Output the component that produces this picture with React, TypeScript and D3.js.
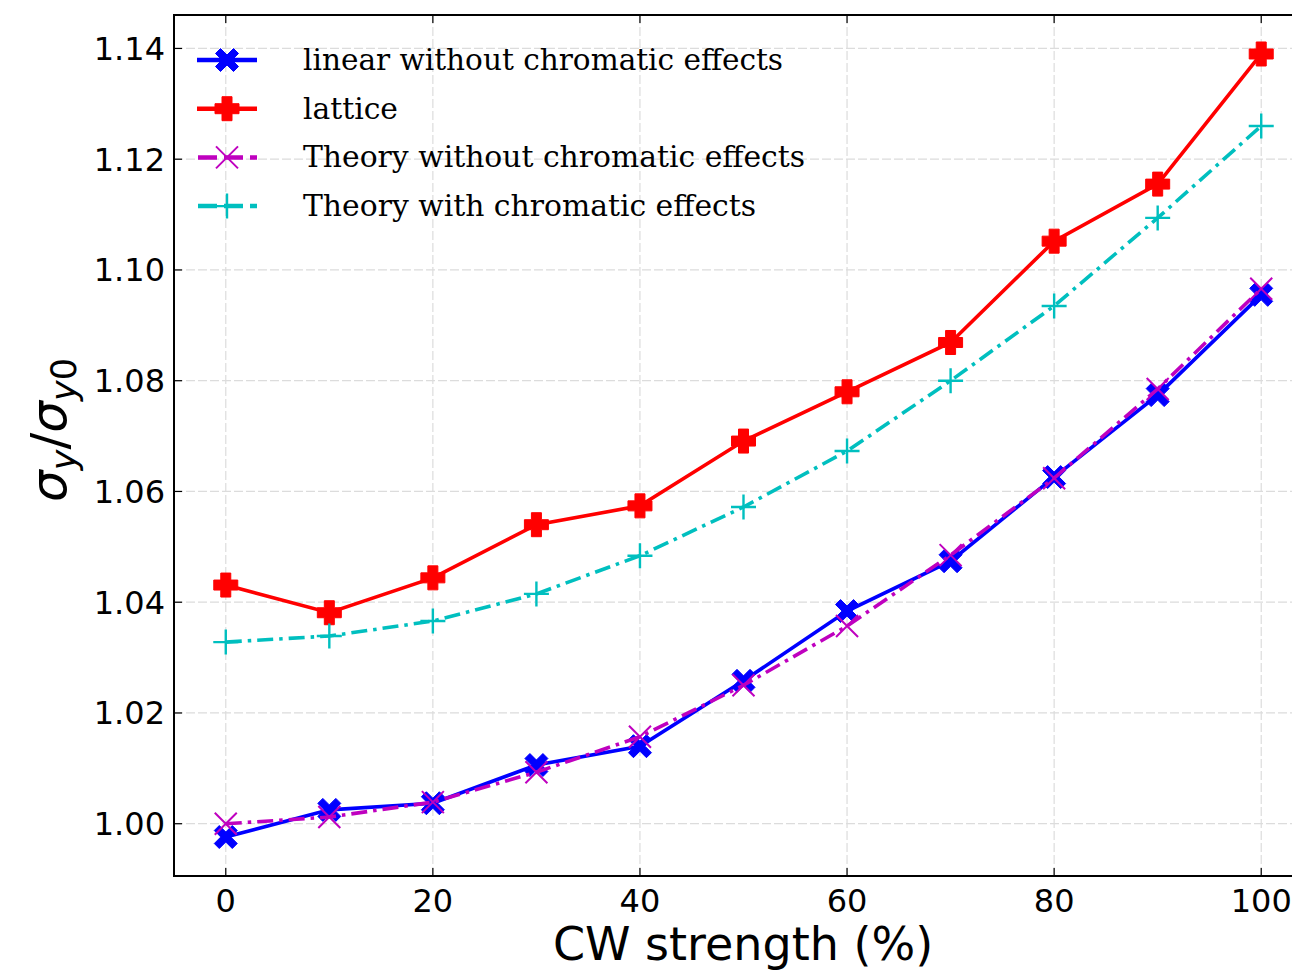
import React from "react";
import * as d3 from "d3";

const xs = [0, 10, 20, 30, 40, 50, 60, 70, 80, 90, 100];
const linearNoChrom = [0.9976, 1.0025, 1.0037, 1.0106, 1.014, 1.0258, 1.0384, 1.0474, 1.0626, 1.0774, 1.0955];
const lattice = [1.0431, 1.0381, 1.0444, 1.054, 1.0574, 1.0691, 1.078, 1.0869, 1.1052, 1.1155, 1.139];
const theoryNoChrom = [1.0, 1.0012, 1.0039, 1.0093, 1.0157, 1.025, 1.0357, 1.0485, 1.0624, 1.0785, 1.0966];
const theoryChrom = [1.0328, 1.0339, 1.0366, 1.0415, 1.0484, 1.0572, 1.0673, 1.08, 1.0935, 1.1094, 1.126];
const xTicks = [0, 20, 40, 60, 80, 100];
const yTicks = [1.0, 1.02, 1.04, 1.06, 1.08, 1.1, 1.12, 1.14];
const legendLabels = [
  "linear without chromatic effects",
  "lattice",
  "Theory without chromatic effects",
  "Theory with chromatic effects",
];

const W = 1292, H = 973;
const L = 174, R = 1313, T = 15, B = 876;

function Marker({ type, x, y, color }: { type: string; x: number; y: number; color: string }) {
  if (type === "X") {
    const s = 11.5, w = 5;
    const p = `M${-s},${-s + w}L${-s + w},${-s}L0,${-w}L${s - w},${-s}L${s},${-s + w}L${w},0L${s},${s - w}L${s - w},${s}L0,${w}L${-s + w},${s}L${-s},${s - w}L${-w},0Z`;
    return <path d={p} transform={`translate(${x},${y})`} fill={color} stroke={color} strokeWidth={1} />;
  }
  if (type === "P") {
    const s = 12, w = 5;
    const p = `M${-w},${-s}H${w}V${-w}H${s}V${w}H${w}V${s}H${-w}V${w}H${-s}V${-w}H${-w}Z`;
    return <path d={p} transform={`translate(${x},${y})`} fill={color} stroke={color} strokeWidth={1} />;
  }
  if (type === "x") {
    const s = 11;
    return <path d={`M${-s},${-s}L${s},${s}M${-s},${s}L${s},${-s}`} transform={`translate(${x},${y})`} stroke={color} strokeWidth={2} fill="none" />;
  }
  const s = 12.5;
  return <path d={`M${-s},0H${s}M0,${-s}V${s}`} transform={`translate(${x},${y})`} stroke={color} strokeWidth={2.4} fill="none" />;
}

export default function App() {
  const x = d3.scaleLinear().domain([-5, 105]).range([L, R]);
  const y = d3.scaleLinear().domain([0.99056, 1.14604]).range([B, T]);
  const series = [
    { data: linearNoChrom, color: "#0000ff", dash: "", marker: "X" },
    { data: lattice, color: "#ff0000", dash: "", marker: "P" },
    { data: theoryNoChrom, color: "#bf00bf", dash: "16,6,3.5,6", marker: "x" },
    { data: theoryChrom, color: "#00bfbf", dash: "16,6,3.5,6", marker: "+" },
  ];
  const line = d3.line<number>().x((_, i) => x(xs[i])).y((d) => y(d));
  const tickFont = "DejaVu Sans, sans-serif";
  return (
    <svg width={W} height={H} style={{ position: "absolute", left: 0, top: 0, background: "#fff" }}>
      <defs>
        <clipPath id="clip">
          <rect x={L} y={T} width={R - L} height={B - T} />
        </clipPath>
      </defs>
      {xTicks.map((t) => (
        <line key={"gx" + t} x1={x(t)} x2={x(t)} y1={T} y2={B} stroke="#dcdcdc" strokeWidth={1.2} strokeDasharray="9,3" />
      ))}
      {yTicks.map((t) => (
        <line key={"gy" + t} x1={L} x2={R} y1={y(t)} y2={y(t)} stroke="#dcdcdc" strokeWidth={1.2} strokeDasharray="9,3" />
      ))}
      <g clipPath="url(#clip)">
        {series.map((s, i) => (
          <g key={i}>
            <path d={line(s.data) || ""} fill="none" stroke={s.color} strokeWidth={3.6} strokeDasharray={s.dash} />
            {s.data.map((v, j) => (
              <Marker key={j} type={s.marker} x={x(xs[j])} y={y(v)} color={s.color} />
            ))}
          </g>
        ))}
      </g>
      <rect x={L} y={T} width={R - L} height={B - T} fill="none" stroke="#000" strokeWidth={2} />
      {xTicks.map((t) => (
        <g key={"tx" + t}>
          <line x1={x(t)} x2={x(t)} y1={B} y2={B - 8} stroke="#000" strokeWidth={1.2} />
          <line x1={x(t)} x2={x(t)} y1={T} y2={T + 8} stroke="#000" strokeWidth={1.2} />
          <text x={x(t)} y={B + 36} textAnchor="middle" fontFamily={tickFont} fontSize={32} fill="#000">{t}</text>
        </g>
      ))}
      {yTicks.map((t) => (
        <g key={"ty" + t}>
          <line x1={L} x2={L + 8} y1={y(t)} y2={y(t)} stroke="#000" strokeWidth={1.2} />
          <text x={L - 9} y={y(t) + 11.5} textAnchor="end" fontFamily={tickFont} fontSize={32} fill="#000">{t.toFixed(2)}</text>
        </g>
      ))}
      <text x={743} y={960} textAnchor="middle" fontFamily={tickFont} fontSize={46} fill="#000">CW strength (%)</text>
      <text transform="translate(66,430) rotate(-90)" textAnchor="middle" fontFamily={tickFont} fontSize={50} fill="#000">
        <tspan fontStyle="italic">σ</tspan>
        <tspan fontStyle="italic" fontSize={35} dy={10}>y</tspan>
        <tspan dy={-10}>/</tspan>
        <tspan fontStyle="italic">σ</tspan>
        <tspan fontStyle="italic" fontSize={35} dy={10}>y</tspan>
        <tspan fontSize={35}>0</tspan>
      </text>
      {series.map((s, i) => {
        const ly = 60 + i * 48.7;
        return (
          <g key={"lg" + i}>
            <line x1={197} x2={257} y1={ly} y2={ly} stroke={s.color} strokeWidth={4.5} strokeDasharray={s.dash ? "19,7" : ""} strokeDashoffset={s.dash ? -1 : 0} />
            <Marker type={s.marker} x={227} y={ly} color={s.color} />
            <text x={303} y={ly + 10} fontFamily="DejaVu Serif, serif" fontSize={29} fill="#000" textLength={[480, 95, 502, 453][i]} lengthAdjust="spacingAndGlyphs">{legendLabels[i]}</text>
          </g>
        );
      })}
    </svg>
  );
}
